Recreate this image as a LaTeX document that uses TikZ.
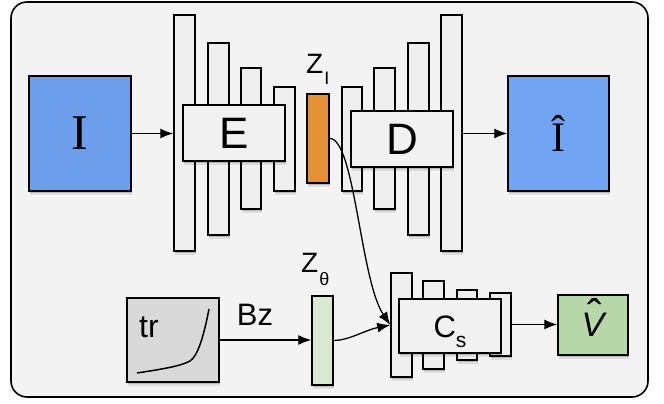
\documentclass[tikz,border=0pt]{standalone}
\usepackage{fontspec}
\setmainfont{Liberation Sans}
\newfontfamily\serifI{Liberation Serif}
\usetikzlibrary{arrows.meta,shadows}
\definecolor{bgc}{HTML}{F3F3F3}
\definecolor{barc}{HTML}{EFEFEF}
\definecolor{boxc}{HTML}{F1F1F1}
\definecolor{blueA}{HTML}{6D9EEB}
\definecolor{blueB}{HTML}{71A4F3}
\definecolor{orangeZ}{HTML}{E69138}
\definecolor{greenZ}{HTML}{D9EAD3}
\definecolor{greenV}{HTML}{B6D7A8}
\definecolor{grayT}{HTML}{D9D9D9}
\begin{document}
\begin{tikzpicture}[x=1pt,y=-1pt,
  soft/.style={drop shadow={shadow xshift=0.6pt,shadow yshift=-1.5pt,opacity=.17,fill=black},
               drop shadow={shadow xshift=1.2pt,shadow yshift=-3.5pt,opacity=.09,fill=black}},
  blk/.style={draw=black,line width=1.5pt,inner sep=0pt,soft},
  bar/.style={blk,fill=barc,minimum width=21pt},
  wbox/.style={blk,fill=boxc,minimum width=102pt},
  lbl/.style={inner sep=0pt,anchor=base west},
  conn/.style={line width=1.3pt,-{Latex[length=13pt,width=10pt]}},
]
\useasboundingbox (0,0) rectangle (664,404);
\node[draw=black,fill=bgc,rounded corners=16pt,line width=1.6pt,
      minimum width=637pt,minimum height=395pt,inner sep=0pt] (frame) at (329.5,199.5) {};

% input image
\node[blk,fill=blueA,minimum width=102pt,minimum height=115pt,
      font=\fontsize{50}{56}\selectfont\serifI] (I) at (80,133.5) {I};

% encoder
\node[bar,minimum height=236pt] (e1) at (184.5,133) {};
\node[bar,minimum height=192pt] (e2) at (218.5,139) {};
\node[bar,minimum width=20pt,minimum height=141pt] (e3) at (251,138.5) {};
\node[bar,minimum height=104pt] (e4) at (284.5,139) {};
\node[wbox,minimum height=56pt,font=\fontsize{44}{50}\selectfont] (E) at (234,133) {E};

% latent Z_I
\node[blk,fill=orangeZ,minimum width=22pt,minimum height=89pt] (zi) at (318,138.5) {};
\node[lbl,font=\fontsize{28}{32}\selectfont] (zil) at (306,74)
  {Z\kern1pt\raisebox{-11pt}{\fontsize{18}{20}\selectfont I}};

% decoder
\node[bar,minimum width=20pt,minimum height=104pt] (d1) at (352,139) {};
\node[bar,minimum height=141pt] (d2) at (384.5,138.5) {};
\node[bar,minimum height=192pt] (d3) at (418.5,139) {};
\node[bar,minimum height=236pt] (d4) at (451.5,133) {};
\node[wbox,minimum height=56pt,font=\fontsize{44}{50}\selectfont] (D) at (402,139) {D};

% output image
\node[blk,fill=blueB,minimum width=101pt,minimum height=115pt,
      font=\fontsize{42}{48}\selectfont\serifI] (Ih) at (558.5,133.5) {Î};

\draw[conn] (I.east) -- (I.east -| e1.west);
\draw[conn] (d4.east |- Ih.west) -- (Ih.west);

% bottom row
\node[blk,fill=grayT,minimum width=92pt,minimum height=84pt] (tr) at (173,340) {};
\node[lbl,font=\fontsize{32}{36}\selectfont] (trl) at (139,337) {tr};
\draw[line width=1.5pt,shift={(tr.center)}]
  (-36,33) .. controls (-10,29) and (8,26) .. (17,21)
           .. controls (25,16) and (31,-5) .. (36,-31);

\node[blk,fill=greenZ,minimum width=21pt,minimum height=89pt] (zt) at (322.5,340.5) {};
\node[lbl,font=\fontsize{28}{32}\selectfont] (ztl) at (301,272)
  {Z\kern1pt\raisebox{-13pt}{\fontsize{18}{20}\selectfont θ}};

\draw[conn] (tr.east) -- (tr.east -| zt.west);
\node[inner sep=0pt,font=\fontsize{31}{34}\selectfont] (bz) at (255,315) {Bz};

% classifier
\node[bar,minimum height=104pt] (c1) at (401.5,325) {};
\node[bar,minimum height=88pt] (c2) at (433.5,325) {};
\node[bar,minimum width=20pt,minimum height=70pt] (c3) at (467,325) {};
\node[bar,minimum height=63pt] (c4) at (500.5,324.5) {};
\node[wbox,minimum height=54pt,font=\fontsize{31}{34}\selectfont,text height=22pt,text depth=0pt]
  (Cs) at (450,326) {C\raisebox{-10pt}{\fontsize{21}{24}\selectfont s}};

\node[blk,fill=greenV,minimum width=70pt,minimum height=60pt,font=\fontsize{34}{40}\selectfont]
  (V) at (593,325)
  {\ooalign{\itshape V\cr\hidewidth\kern4pt\raisebox{6pt}{\fontsize{44}{48}\selectfont\symbol{"02C6}}\hidewidth\cr}};

\draw[conn] (c4.east) -- (c4.east -| V.west);

% connectors to classifier
\draw[conn] (zi.east) .. controls +(25,0) and +(-30,-45) .. (c1.west);
\draw[conn] (zt.east) .. controls +(15,0) and +(-25,5) .. (c1.west);
\end{tikzpicture}
\end{document}
